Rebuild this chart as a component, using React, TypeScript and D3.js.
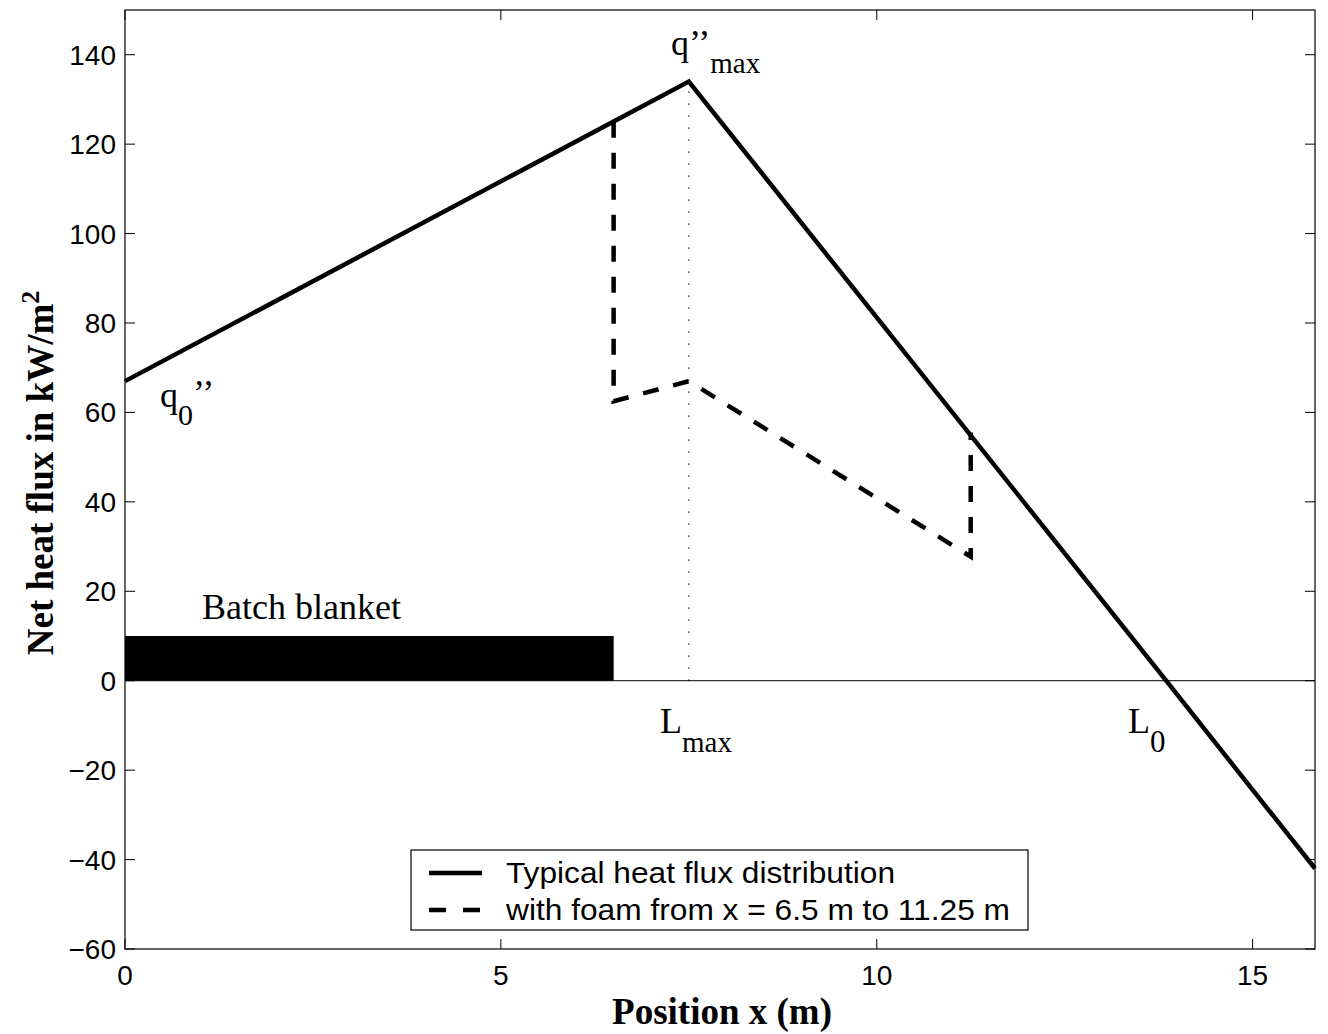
import React from 'react';
import * as d3 from 'd3';

// --- data ---
const solidX = [0, 7.5, 13.85, 15.83];
const solidY = [67, 134, 0, -42];
const foamX = [6.5, 6.5, 7.5, 11.25, 11.25];
const foamY = [125, 62.5, 67, 27.75, 55.5];
const blanketX = [0, 6.5];
const blanketY = [0, 10];
const xTicks = [0, 5, 10, 15];
const yTicks = [-60, -40, -20, 0, 20, 40, 60, 80, 100, 120, 140];
const legendLabels = ['Typical heat flux distribution', 'with foam from x = 6.5 m to 11.25 m'];

const W = 1328, H = 1034;
const M = { left: 125, top: 10, right: 1315, bottom: 949 };
const serif = '"Liberation Serif", "Times New Roman", serif';
const sans = '"Liberation Sans", Arial, sans-serif';

export default function App() {
  const x = d3.scaleLinear().domain([0, 15.83]).range([M.left, M.right]);
  const y = d3.scaleLinear().domain([-60, 150]).range([M.bottom, M.top]);
  const line = d3.line<[number, number]>().x(d => x(d[0])).y(d => y(d[1]));
  const solid = solidX.map((v, i) => [v, solidY[i]] as [number, number]);
  const foam = foamX.map((v, i) => [v, foamY[i]] as [number, number]);
  const tk = 10;

  return (
    <svg width={W} height={H} style={{ position: 'absolute', left: 0, top: 0, background: '#fff' }}>
      <rect x={0} y={0} width={W} height={H} fill="#fff" />
      {/* batch blanket */}
      <rect x={x(blanketX[0])} y={y(blanketY[1])} width={x(blanketX[1]) - x(blanketX[0])}
        height={y(blanketY[0]) - y(blanketY[1])} fill="#000" />
      {/* zero line */}
      <line x1={M.left} x2={M.right} y1={y(0)} y2={y(0)} stroke="#000" strokeWidth={1} />
      {/* dotted L_max marker */}
      <line x1={x(7.5)} x2={x(7.5)} y1={y(0)} y2={y(134)} stroke="#000" strokeWidth={1.2} strokeDasharray="1.2,10.8" />
      <path d={line(solid) || ''} fill="none" stroke="#000" strokeWidth={4.5} strokeLinejoin="miter" />
      <path d={line(foam) || ''} fill="none" stroke="#000" strokeWidth={4.5} strokeDasharray="16,15" />

      {/* frame and ticks */}
      <rect x={M.left} y={M.top} width={M.right - M.left} height={M.bottom - M.top} fill="none" stroke="#000" strokeWidth={1.2} />
      {xTicks.map(t => (
        <g key={'x' + t}>
          <line x1={x(t)} x2={x(t)} y1={M.bottom} y2={M.bottom - tk} stroke="#000" />
          <line x1={x(t)} x2={x(t)} y1={M.top} y2={M.top + tk} stroke="#000" />
          <text x={x(t)} y={M.bottom + 36} textAnchor="middle" fontFamily={sans} fontSize={28}>{t}</text>
        </g>
      ))}
      {yTicks.map(t => (
        <g key={'y' + t}>
          <line x1={M.left} x2={M.left + tk} y1={y(t)} y2={y(t)} stroke="#000" />
          <line x1={M.right} x2={M.right - tk} y1={y(t)} y2={y(t)} stroke="#000" />
          <text x={M.left - 9} y={y(t) + 10} textAnchor="end" fontFamily={sans} fontSize={28}>
            {t < 0 ? '\u2212' + Math.abs(t) : t}
          </text>
        </g>
      ))}

      {/* axis labels */}
      <text x={722} y={1024} textAnchor="middle" fontFamily={serif} fontWeight="bold" fontSize={37}>Position x (m)</text>
      <text transform={`translate(53,473) rotate(-90)`} textAnchor="middle"
        fontFamily={serif} fontWeight="bold" fontSize={37}>
        Net heat flux in kW/m<tspan dy={-14} fontSize={26}>2</tspan>
      </text>

      {/* annotations */}
      <text x={671} y={55} fontFamily={serif} fontSize={36}>
        q’’<tspan dy={18} fontSize={29}>max</tspan>
      </text>
      <text x={160} y={407} fontFamily={serif} fontSize={36}>
        q<tspan dy={18} fontSize={30}>0</tspan><tspan dy={-20}>’’</tspan>
      </text>
      <text x={202} y={619} fontFamily={serif} fontSize={36}>Batch blanket</text>
      <text x={660} y={733} fontFamily={serif} fontSize={36}>
        L<tspan dy={19} fontSize={29}>max</tspan>
      </text>
      <text x={1128} y={733} fontFamily={serif} fontSize={36}>
        L<tspan dy={19} fontSize={31}>0</tspan>
      </text>

      {/* legend */}
      <rect x={411} y={850} width={617} height={80} fill="#fff" stroke="#000" strokeWidth={1.2} />
      <line x1={429} x2={482} y1={873} y2={873} stroke="#000" strokeWidth={4.5} />
      <line x1={429} x2={482} y1={910} y2={910} stroke="#000" strokeWidth={4.5} strokeDasharray="17,17" />
      <text x={506} y={883} fontFamily={sans} fontSize={29} textLength={389} lengthAdjust="spacingAndGlyphs">{legendLabels[0]}</text>
      <text x={506} y={920} fontFamily={sans} fontSize={29} textLength={504} lengthAdjust="spacingAndGlyphs">{legendLabels[1]}</text>
    </svg>
  );
}
